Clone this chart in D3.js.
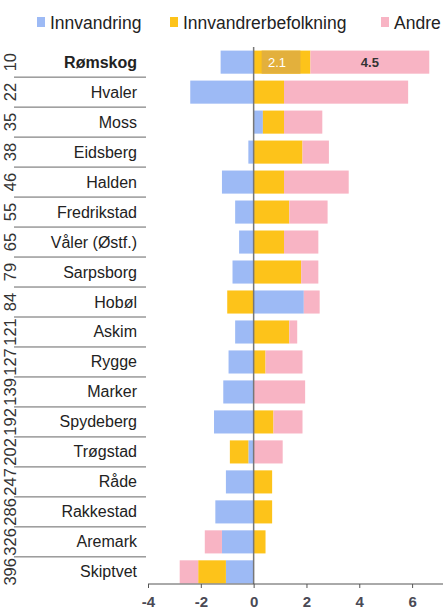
<!DOCTYPE html>
<html>
<head>
<meta charset="utf-8">
<script src="https://cdn.jsdelivr.net/npm/d3@7"></script>
<style>
body{margin:0;background:#fff;font-family:"Liberation Sans",Arial,sans-serif;}
.axis path,.axis line{stroke:#555;}
.axis text{font-size:15px;font-weight:bold;fill:#4a4a55;font-family:"Liberation Sans",Arial,sans-serif;}
</style>
</head>
<body>
<div id="canvas" class="canvas" style="width:443px;height:616px"></div>
<script>
// data
var kommuner = ['Rømskog','Hvaler','Moss','Eidsberg','Halden','Fredrikstad','Våler (Østf.)','Sarpsborg','Hobøl','Askim','Rygge','Marker','Spydeberg','Trøgstad','Råde','Rakkestad','Aremark','Skiptvet'];
var rang = [10,22,35,38,46,55,65,79,84,121,127,139,192,202,247,286,326,396];
var innvandring = [-1.25,-2.4,0.35,-0.2,-1.2,-0.7,-0.55,-0.8,1.9,-0.7,-0.95,-1.15,-1.5,-0.2,-1.05,-1.45,-1.2,-1.05];
var innvandrerbef = [2.15,1.15,0.8,1.85,1.15,1.35,1.15,1.8,-1.0,1.35,0.45,0,0.75,-0.7,0.7,0.7,0.45,-1.05];
var andre = [4.5,4.7,1.45,1.0,2.45,1.45,1.3,0.65,0.6,0.3,1.4,1.95,1.1,1.1,0,0,-0.65,-0.7];
var serier = ['Innvandring','Innvandrerbefolkning','Andre'];
var farger = ['#9dbaf5','#fdc31a','#f8b4c4'];
var xTicks = [-4,-2,0,2,4,6];

var outerWidth = 443, outerHeight = 616;
var m = {t:47,r:0,b:32,l:147};

var svg = d3.select('.canvas')
    .append('svg')
    .attr('width',outerWidth)
    .attr('height',outerHeight);

var rows = kommuner.map(function(k,i){
    return {navn:k, rang:rang[i], Innvandring:innvandring[i], Innvandrerbefolkning:innvandrerbef[i], Andre:andre[i]};
});

var scaleX = d3.scaleLinear()
    .domain([-4,7.17])
    .range([m.l+1, outerWidth]);
var scaleY = d3.scaleBand()
    .domain(kommuner)
    .range([m.t, m.t+540])
    .paddingInner(0.23)
    .paddingOuter(0.12);
var color = d3.scaleOrdinal().domain(serier).range(farger);

var stack = d3.stack().keys(serier).offset(d3.stackOffsetDiverging)(rows);

//legend
var leg = svg.append('g').attr('class','legend');
var legX = [37,170,381];
serier.forEach(function(s,i){
    leg.append('rect').attr('x',legX[i]).attr('y',17).attr('width',8).attr('height',10).attr('fill',farger[i]);
    leg.append('text').attr('x',legX[i]+13).attr('y',28.5).attr('font-size',17.5).attr('fill','#222').text(s);
});

//bars
svg.append('g').selectAll('g')
    .data(stack)
    .enter()
    .append('g')
    .attr('fill',function(d){return color(d.key)})
    .selectAll('rect')
    .data(function(d){return d})
    .enter()
    .append('rect')
    .attr('x',function(d){return scaleX(Math.min(d[0],d[1]))})
    .attr('width',function(d){return Math.abs(scaleX(d[1])-scaleX(d[0]))})
    .attr('y',function(d){return scaleY(d.data.navn)})
    .attr('height',scaleY.bandwidth());

//value label on Rømskog
var r0 = rows[0];
var yb = scaleY(r0.navn);
svg.append('rect')
    .attr('x',scaleX(0)+8).attr('y',yb).attr('width',scaleX(r0.Innvandrerbefolkning)-scaleX(0)-18)
    .attr('height',scaleY.bandwidth()).attr('fill','#e3b03c');
svg.append('text')
    .attr('x',(scaleX(0)+scaleX(r0.Innvandrerbefolkning))/2-5).attr('y',yb+scaleY.bandwidth()/2+5)
    .attr('text-anchor','middle').attr('font-size',13).attr('fill','#fff').text(d3.format('.1f')(r0.Innvandrerbefolkning));
svg.append('text')
    .attr('x',scaleX(r0.Innvandrerbefolkning+r0.Andre/2)).attr('y',yb+scaleY.bandwidth()/2+5)
    .attr('text-anchor','middle').attr('font-size',13).attr('font-weight','bold').attr('fill','#333').text(d3.format('.1f')(r0.Andre));

//zero line
svg.append('line')
    .attr('x1',scaleX(0)).attr('x2',scaleX(0))
    .attr('y1',m.t).attr('y2',m.t+537)
    .attr('stroke','#777').attr('stroke-width',1.5);

//row labels
var lab = svg.append('g').selectAll('g')
    .data(rows)
    .enter()
    .append('g')
    .attr('transform',function(d){return 'translate(0,'+(scaleY(d.navn)+scaleY.bandwidth()/2)+')'});
lab.append('text')
    .attr('x',137).attr('y',5.5)
    .attr('text-anchor','end').attr('font-size',16).attr('fill','#222')
    .attr('font-weight',function(d,i){return i==0?'bold':'normal'})
    .text(function(d){return d.navn});
lab.append('text')
    .attr('transform','translate(16,0) rotate(-90)')
    .attr('text-anchor','middle').attr('font-size',16.5).attr('fill','#333')
    .text(function(d){return d.rang});

//separators
svg.append('g').selectAll('line')
    .data(kommuner.slice(0,-1))
    .enter()
    .append('line')
    .attr('x1',14).attr('x2',146)
    .attr('y1',function(d){return scaleY(d)+scaleY.bandwidth()+scaleY.step()*scaleY.paddingInner()/2})
    .attr('y2',function(d){return scaleY(d)+scaleY.bandwidth()+scaleY.step()*scaleY.paddingInner()/2})
    .attr('stroke','#666').attr('stroke-width',1);

//axis
var axisX = d3.axisBottom().scale(scaleX).tickValues(xTicks).tickSize(4).tickPadding(8)
    .tickFormat(function(d){return String(d)});
svg.append('g').attr('class','axis axis-x')
    .attr('transform','translate(0,584)')
    .call(axisX)
    .call(function(g){g.select('.domain').attr('d','M'+(m.l+1)+',0H'+outerWidth)});
</script>
</body>
</html>
